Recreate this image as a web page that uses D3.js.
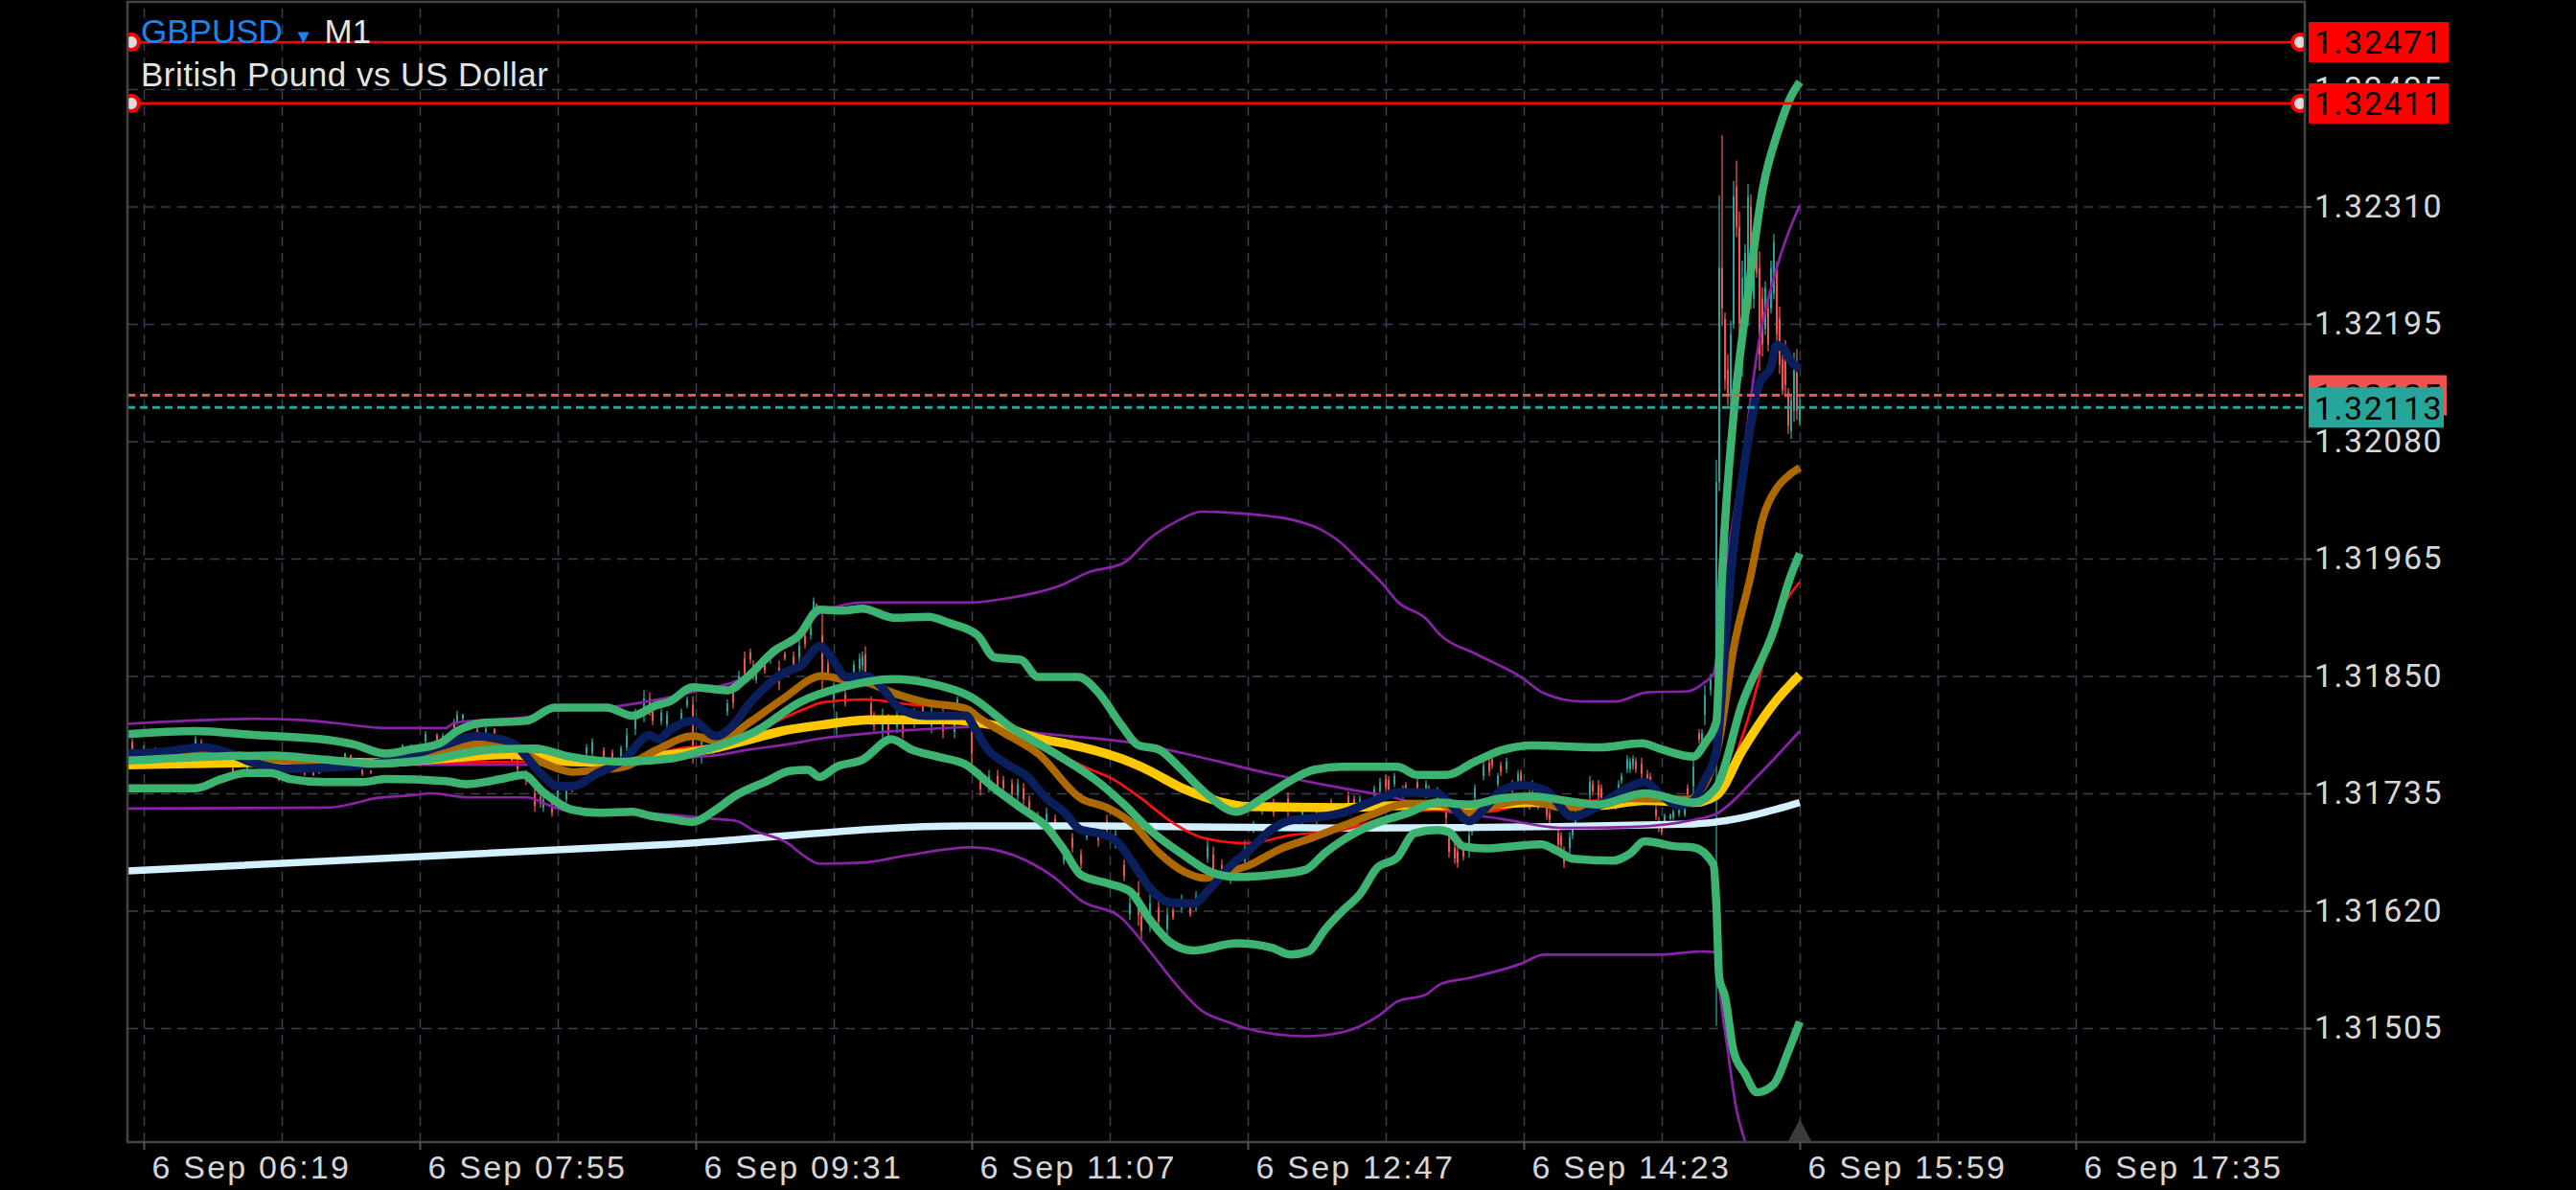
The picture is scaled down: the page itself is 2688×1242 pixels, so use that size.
<!DOCTYPE html>
<html>
<head>
<meta charset="utf-8">
<script src="https://cdn.jsdelivr.net/npm/d3@7"></script>
<style>
  html, body { margin: 0; background: #000; }
  svg { display: block; }
</style>
</head>
<body>
<script>
//// Data ///////////////////////////////////////////
// prices are kept in points (1 point = 0.00001), bar = minutes after 06:19

const PT = 1e5

const priceTicks = [1.31505, 1.31620, 1.31735, 1.31850, 1.31965, 1.32080, 1.32195, 1.32310, 1.32425]
const timeTickBars = [0, 96, 192, 288, 384, 480, 576, 672]
const timeTickLabels = ["6 Sep 06:19", "6 Sep 07:55", "6 Sep 09:31", "6 Sep 11:07",
                        "6 Sep 12:47", "6 Sep 14:23", "6 Sep 15:59", "6 Sep 17:35"]
const gridBars = [0, 48, 96, 144, 192, 240, 288, 336, 384, 432, 480, 528, 576, 624, 672, 720]

const levelPrices = [1.32471, 1.32411]
const askPrice = 1.32125
const bidPrice = 1.32113
const lastBar = 576

// [bar, open, high, low, close]
const candles = [
  [-4,131785,131789,131771,131775],[0,131774,131782,131771,131779],[4,131772,131780,131769,131777],
  [9,131775,131778,131766,131769],[13,131772,131782,131769,131779],[18,131783,131791,131780,131788],
  [20,131785,131788,131777,131780],[25,131767,131775,131764,131772],[31,131760,131761,131755,131756],
  [32,131753,131754,131749,131750],[36,131759,131766,131757,131764],[41,131769,131773,131768,131772],
  [47,131751,131752,131747,131748],[53,131768,131775,131766,131773],[56,131758,131759,131752,131754],
  [59,131757,131758,131752,131753],[61,131755,131759,131754,131758],[70,131770,131775,131769,131774],
  [72,131772,131773,131766,131768],[76,131759,131761,131752,131754],[79,131757,131758,131754,131755],
  [86,131763,131771,131761,131769],[90,131778,131783,131777,131782],[93,131777,131783,131775,131781],
  [98,131786,131796,131783,131793],[102,131792,131794,131785,131787],[104,131786,131794,131783,131791],
  [108,131805,131808,131796,131799],[109,131805,131816,131802,131812],[111,131808,131813,131806,131812],
  [116,131797,131799,131789,131791],[119,131793,131801,131791,131798],[122,131798,131799,131792,131794],
  [128,131771,131773,131764,131766],[130,131765,131768,131755,131758],[133,131754,131758,131743,131747],
  [136,131735,131741,131717,131723],[138,131732,131736,131721,131725],[139,131721,131733,131717,131729],
  [142,131726,131730,131712,131716],[144,131729,131743,131724,131738],[147,131729,131740,131726,131737],
  [149,131742,131743,131736,131738],[154,131774,131783,131771,131780],[156,131775,131789,131771,131785],
  [160,131777,131780,131768,131771],[163,131775,131778,131766,131769],[166,131771,131782,131768,131779],
  [168,131780,131799,131773,131792],[171,131798,131818,131792,131812],[174,131813,131836,131805,131828],
  [176,131828,131834,131811,131817],[177,131816,131820,131802,131806],[180,131806,131818,131802,131814],
  [182,131803,131816,131799,131812],[187,131806,131818,131802,131814],[189,131821,131830,131818,131827],
  [191,131822,131830,131764,131772],[194,131771,131792,131764,131785],[198,131776,131792,131771,131787],
  [203,131815,131827,131811,131823],[205,131837,131843,131818,131824],[207,131841,131855,131836,131850],
  [209,131867,131874,131846,131853],[211,131873,131877,131862,131866],[212,131860,131865,131846,131851],
  [213,131846,131855,131843,131852],[216,131862,131865,131852,131855],[218,131866,131877,131862,131873],
  [221,131858,131865,131836,131843],[223,131872,131874,131865,131867],[226,131869,131874,131855,131860],
  [228,131868,131886,131862,131880],[230,131889,131893,131877,131881],[232,131890,131902,131886,131898],
  [233,131915,131927,131911,131923],[234,131920,131921,131914,131916],[236,131890,131911,131834,131853],
  [238,131862,131867,131846,131851],[240,131824,131843,131818,131837],[241,131798,131815,131792,131809],
  [244,131832,131836,131820,131824],[247,131853,131865,131849,131861],[249,131857,131872,131852,131867],
  [250,131860,131874,131855,131869],[251,131871,131879,131846,131854],[253,131823,131830,131802,131809],
  [254,131810,131815,131796,131801],[257,131796,131818,131789,131811],[259,131806,131813,131787,131793],
  [262,131800,131818,131794,131812],[264,131805,131810,131789,131794],[268,131804,131818,131799,131813],
  [271,131821,131827,131804,131810],[274,131801,131822,131794,131815],[278,131811,131818,131789,131796],
  [282,131795,131813,131789,131807],[283,131821,131830,131818,131827],[288,131795,131805,131764,131774],
  [291,131752,131758,131733,131739],[294,131741,131758,131736,131752],[297,131752,131758,131733,131739],
  [299,131748,131752,131736,131740],[302,131744,131749,131730,131735],[304,131733,131749,131728,131744],
  [306,131740,131745,131724,131729],[308,131728,131733,131714,131719],[311,131713,131717,131702,131706],
  [314,131704,131721,131698,131715],[317,131710,131714,131696,131700],[320,131669,131683,131665,131679],
  [323,131691,131696,131677,131682],[326,131675,131680,131661,131666],[328,131692,131702,131689,131699],
  [332,131699,131705,131683,131689],[335,131708,131714,131689,131695],[338,131686,131700,131681,131695],
  [341,131665,131670,131649,131654],[343,131617,131633,131611,131627],[346,131638,131649,131605,131616],
  [347,131615,131623,131592,131600],[350,131608,131636,131599,131627],[353,131623,131630,131602,131609],
  [356,131602,131623,131595,131616],[358,131620,131623,131611,131614],[361,131622,131636,131618,131632],
  [364,131624,131627,131614,131617],[366,131625,131639,131620,131634],[370,131672,131689,131667,131683],
  [372,131675,131683,131651,131660],[375,131665,131670,131651,131656],[378,131651,131665,131646,131660],
  [383,131668,131689,131661,131682],[386,131699,131708,131696,131705],[389,131719,131733,131714,131728],
  [393,131725,131730,131712,131716],[398,131730,131736,131712,131718],[403,131709,131721,131705,131717],
  [408,131719,131724,131705,131710],[413,131726,131730,131714,131718],[419,131732,131737,131719,131724],
  [421,131729,131733,131719,131723],[423,131723,131733,131719,131729],[428,131731,131743,131727,131739],
  [430,131737,131750,131733,131746],[432,131749,131753,131737,131741],[433,131748,131752,131735,131739],
  [435,131744,131755,131741,131752],[438,131733,131743,131730,131740],[439,131743,131746,131733,131736],
  [443,131746,131750,131733,131737],[446,131734,131748,131730,131744],[447,131740,131743,131731,131734],
  [450,131738,131741,131727,131730],[453,131721,131727,131705,131711],[454,131691,131697,131672,131678],
  [456,131682,131687,131666,131671],[457,131678,131683,131662,131667],[459,131683,131687,131669,131673],
  [461,131679,131701,131672,131694],[462,131697,131705,131694,131702],[463,131731,131744,131727,131740],
  [466,131752,131766,131748,131762],[468,131765,131770,131752,131756],[469,131769,131773,131759,131762],
  [471,131744,131755,131741,131752],[472,131762,131766,131752,131756],[474,131759,131770,131755,131766],
  [476,131744,131748,131733,131737],[478,131745,131758,131741,131754],[479,131755,131758,131744,131747],
  [482,131735,131741,131719,131725],[483,131737,131748,131733,131744],[485,131732,131737,131719,131724],
  [488,131722,131727,131709,131713],[489,131715,131719,131705,131709],[492,131696,131701,131680,131685],
  [493,131693,131697,131680,131684],[494,131678,131683,131662,131667],[496,131681,131697,131676,131692],
  [497,131694,131705,131690,131701],[498,131705,131719,131701,131714],[500,131716,131727,131712,131723],
  [503,131733,131752,131727,131746],[504,131744,131748,131733,131737],[506,131743,131748,131727,131732],
  [507,131740,131744,131727,131731],[509,131725,131733,131723,131731],[512,131729,131733,131719,131723],
  [513,131737,131748,131733,131744],[514,131747,131755,131744,131752],[516,131759,131772,131755,131768],
  [517,131759,131770,131755,131766],[518,131762,131772,131758,131769],[519,131766,131770,131755,131759],
  [521,131764,131770,131748,131754],[523,131754,131758,131744,131748],[524,131751,131755,131741,131745],
  [526,131719,131723,131709,131713],[527,131708,131712,131697,131701],[528,131702,131705,131694,131697],
  [529,131707,131715,131705,131713],[531,131710,131715,131709,131714],[532,131711,131719,131709,131717],
  [534,131715,131723,131712,131720],[536,131714,131723,131712,131721],[537,131740,131744,131730,131734],
  [539,131742,131770,131733,131761],[541,131794,131798,131784,131788],[542,131785,131798,131780,131794],
  [543,131812,131841,131802,131831],[545,131836,131852,131831,131847],
  [547,131850,132062,131507,132040],[548,132040,132321,132031,132250],[549,132250,132380,132193,132210],
  [550,132200,132206,132130,132140],[551,132150,132165,132115,132125],[552,132125,132198,132111,132185],
  [553,132195,132335,132190,132320],[554,132330,132355,132280,132290],[555,132290,132305,132179,132195],
  [556,132160,132257,132143,132240],[557,132225,132273,132219,132265],[558,132210,132332,132193,132320],
  [559,132310,132322,132209,132225],[560,132220,132268,132210,132260],[561,132265,132268,132240,132245],
  [562,132250,132266,132149,132165],[563,132220,132231,132163,132175],[564,132190,132237,132184,132230],
  [565,132210,132217,132168,132175],[566,132210,132257,132205,132250],[567,132225,132283,132219,132275],
  [568,132250,132256,132177,132185],[569,132200,132212,132146,132155],[570,132160,132165,132125,132130],
  [571,132170,132179,132125,132135],[572,132128,132132,132087,132095],[573,132090,132126,132082,132120],
  [574,132110,132167,132099,132155],[575,132150,132170,132101,132110],[576,132100,132127,132095,132113]
]

// moving average 200 (light blue)
const ma200 = [[-6,131659],[183,131685],[287,131703],[332,131703],[417,131701],[539,131705],[547,131707],[576,131726]]

// short bollinger band (green)
const bbUpper = [[-6,131793],[18,131796],[39,131792],[62,131788],[73,131783],[84,131774],[93,131778],[103,131784],
  [109,131796],[118,131804],[133,131806],[143,131819],[161,131819],[170,131811],[178,131821],[183,131825],
  [191,131839],[203,131836],[210,131849],[219,131874],[228,131890],[235,131915],[243,131914],[250,131916],
  [261,131907],[273,131908],[280,131902],[290,131890],[296,131868],[305,131866],[311,131849],[325,131849],
  [332,131834],[340,131802],[346,131782],[353,131778],[360,131761],[369,131736],[380,131717],[389,131730],
  [398,131746],[407,131758],[417,131761],[436,131761],[443,131753],[453,131753],[463,131766],[472,131777],
  [483,131782],[506,131780],[521,131784],[528,131778],[539,131771],[543,131784],[547,131805],[549,131949],
  [553,132106],[558,132224],[563,132325],[569,132388],[573,132418],[576,132432]]
const bbMiddle = [[-6,131767],[24,131771],[45,131772],[63,131768],[81,131764],[99,131768],[121,131778],[136,131779],
  [148,131771],[167,131766],[183,131769],[198,131780],[213,131796],[228,131824],[243,131839],[261,131847],
  [273,131843],[288,131829],[302,131799],[317,131774],[332,131746],[341,131724],[350,131699],[362,131674],
  [371,131658],[380,131653],[392,131655],[404,131660],[411,131677],[417,131689],[428,131705],[439,131715],
  [450,131726],[461,131724],[472,131730],[483,131732],[494,131728],[506,131724],[522,131735],[539,131726],
  [547,131741],[556,131823],[567,131895],[573,131949],[576,131970]]
const bbLower = [[-6,131740],[18,131740],[27,131749],[36,131755],[44,131755],[51,131749],[63,131746],[76,131746],
  [84,131749],[105,131747],[112,131744],[126,131750],[132,131753],[139,131736],[149,131719],[158,131716],
  [170,131717],[176,131713],[183,131710],[191,131707],[198,131717],[206,131733],[216,131746],[225,131757],
  [231,131758],[235,131751],[241,131761],[250,131768],[260,131788],[267,131778],[276,131771],[286,131763],
  [295,131742],[305,131721],[314,131702],[320,131680],[326,131655],[335,131647],[343,131639],[350,131611],
  [357,131589],[365,131581],[380,131588],[392,131584],[399,131577],[405,131580],[411,131602],[417,131620],
  [423,131636],[429,131662],[436,131672],[442,131696],[450,131699],[454,131697],[459,131683],[467,131681],
  [476,131683],[486,131685],[492,131678],[497,131671],[511,131669],[517,131676],[522,131688],[533,131683],
  [539,131682],[546,131665],[547,131626],[548,131554],[550,131536],[553,131482],[557,131460],[561,131442],
  [567,131450],[572,131482],[576,131511]]

// long bollinger band (purple)
const envUpper = [[-6,131803],[39,131808],[54,131807],[66,131804],[84,131799],[105,131799],[108,131804],[134,131810],
  [142,131816],[158,131818],[175,131825],[183,131829],[192,131835],[210,131850],[227,131890],[236,131913],
  [251,131922],[288,131922],[300,131926],[311,131932],[320,131940],[328,131951],[341,131961],[350,131985],
  [359,132001],[368,132011],[383,132009],[401,132002],[409,131994],[417,131979],[422,131965],[431,131940],
  [436,131923],[446,131906],[451,131890],[463,131872],[479,131849],[487,131833],[500,131825],[512,131825],
  [523,131834],[537,131835],[543,131844],[546,131852],[550,131949],[556,132059],[562,132181],[568,132250],
  [572,132284],[576,132311]]
const envMiddle = [[-6,131761],[29,131763],[107,131763],[150,131763],[183,131770],[198,131772],[211,131778],
  [224,131783],[236,131789],[253,131794],[267,131797],[289,131800],[300,131798],[311,131794],[322,131791],
  [340,131786],[347,131783],[362,131774],[392,131754],[417,131740],[433,131732],[450,131719],[472,131710],
  [494,131701],[517,131702],[539,131709],[547,131715],[561,131751],[576,131796]]
const envLower = [[-6,131720],[64,131721],[73,131725],[80,131730],[93,131733],[100,131735],[113,131731],[133,131731],
  [143,131721],[149,131717],[167,131716],[183,131714],[198,131710],[206,131708],[212,131699],[224,131686],
  [229,131675],[235,131666],[250,131667],[265,131674],[288,131682],[307,131669],[317,131652],[326,131630],
  [340,131613],[350,131580],[359,131548],[368,131522],[377,131511],[383,131505],[404,131497],[417,131501],
  [430,131518],[436,131531],[446,131538],[451,131548],[461,131554],[479,131568],[487,131577],[528,131577],
  [541,131580],[547,131579],[548,131547],[551,131482],[554,131425],[557,131393],[560,131360]]

// fast average (navy)
const emaFast = [[-6,131774],[4,131775],[21,131780],[29,131775],[37,131766],[50,131759],[63,131760],[80,131764],
  [91,131771],[104,131782],[116,131791],[122,131789],[129,131783],[133,131771],[138,131755],[144,131742],
  [149,131742],[158,131755],[167,131768],[176,131792],[179,131788],[183,131797],[191,131806],[199,131791],
  [204,131799],[211,131824],[222,131852],[229,131861],[235,131879],[240,131865],[244,131849],[251,131850],
  [256,131841],[263,131818],[272,131811],[286,131811],[289,131799],[293,131780],[300,131764],[307,131752],
  [314,131730],[320,131717],[326,131699],[332,131696],[338,131689],[344,131667],[350,131642],[357,131628],
  [365,131627],[371,131642],[378,131664],[386,131683],[392,131699],[398,131708],[407,131711],[417,131716],
  [428,131728],[437,131736],[450,131735],[454,131726],[461,131708],[466,131719],[472,131737],[479,131743],
  [488,131737],[497,131712],[506,131723],[514,131737],[522,131746],[528,131733],[534,131723],[539,131728],
  [543,131748],[547,131777],[550,131877],[552,131949],[556,132043],[559,132096],[562,132137],[566,132153],
  [568,132174],[570,132172],[573,132158],[576,132151]]

// medium average (brown)
const emaMid = [[-6,131772],[21,131775],[37,131771],[60,131765],[77,131764],[104,131777],[116,131783],[127,131782],
  [138,131766],[149,131756],[158,131758],[167,131761],[178,131777],[191,131791],[200,131786],[211,131805],
  [222,131827],[236,131850],[244,131846],[252,131843],[261,131833],[272,131824],[286,131818],[291,131808],
  [300,131793],[311,131774],[326,131730],[335,131721],[344,131705],[353,131677],[362,131658],[369,131652],
  [377,131658],[384,131664],[395,131680],[407,131692],[417,131703],[428,131715],[439,131725],[450,131725],
  [461,131715],[470,131723],[481,131728],[494,131721],[506,131723],[517,131730],[537,131729],[543,131744],
  [548,131787],[553,131877],[559,131949],[563,132003],[568,132034],[572,132046],[576,132054]]

// thin average (red)
const emaRed = [[-6,131769],[83,131765],[150,131766],[167,131768],[178,131774],[189,131780],[200,131782],[211,131793],
  [222,131808],[231,131819],[236,131824],[251,131827],[267,131822],[278,131821],[287,131815],[294,131802],
  [306,131789],[317,131775],[328,131760],[337,131749],[347,131730],[357,131708],[369,131691],[384,131686],
  [399,131694],[417,131699],[428,131708],[450,131719],[467,131717],[483,131726],[517,131728],[539,131728],
  [547,131733],[557,131799],[568,131906],[576,131942]]

// slow average (yellow)
const emaSlow = [[-6,131763],[16,131764],[60,131766],[82,131765],[104,131769],[127,131773],[138,131770],[149,131766],
  [167,131765],[178,131771],[189,131775],[200,131780],[211,131788],[222,131796],[236,131802],[253,131807],
  [278,131807],[289,131805],[300,131799],[311,131789],[322,131783],[340,131769],[347,131761],[362,131739],
  [374,131727],[384,131722],[417,131721],[439,131723],[461,131723],[483,131726],[506,131723],[522,131728],
  [539,131726],[547,131733],[556,131777],[567,131823],[576,131851]]


//// Layout /////////////////////////////////////////

const WIDTH = 2688
const HEIGHT = 1242
const plot = { left: 133, right: 2405, top: 2, bottom: 1192 }

const upColor = "#26a69a"
const downColor = "#ef5350"
const gridColor = "#3e3e4e"
const textColor = "#d6d6d6"

const svg = d3.select("body").append("svg")
    .attr("width", WIDTH)
    .attr("height", HEIGHT)
    .style("background", "#000")

const x = d3.scaleLinear().domain([-17 / 3, 2255 / 3]).range([plot.left, plot.right])
const y = d3.scaleLinear().domain([1.3139328, 1.3251043]).range([plot.bottom, plot.top])

svg.append("clipPath").attr("id", "plotClip")
    .append("rect")
    .attr("x", plot.left).attr("y", plot.top)
    .attr("width", plot.right - plot.left).attr("height", plot.bottom - plot.top)

/// Grid ///
svg.append("g")
    .attr("transform", `translate(0,${plot.bottom})`)
    .call(d3.axisBottom(x).tickValues(gridBars).tickSize(-(plot.bottom - plot.top)).tickFormat(""))
    .call(g => g.select(".domain").remove())
    .selectAll("line")
    .attr("stroke", gridColor).attr("stroke-width", 1.5).attr("stroke-dasharray", "10,7")

svg.append("g")
    .attr("transform", `translate(${plot.right},0)`)
    .call(d3.axisLeft(y).tickValues(priceTicks).tickSize(plot.right - plot.left).tickFormat(""))
    .call(g => g.select(".domain").remove())
    .selectAll("line")
    .attr("stroke", gridColor).attr("stroke-width", 1.5).attr("stroke-dasharray", "10,7")

const area = svg.append("g").attr("clip-path", "url(#plotClip)")

/// Candles ///
const candleG = area.append("g")
candles.forEach(([bar, o, h, l, c]) => {
    const col = c >= o ? upColor : downColor
    candleG.append("line")
        .attr("x1", x(bar)).attr("x2", x(bar))
        .attr("y1", y(h / PT)).attr("y2", y(l / PT))
        .attr("stroke", col).attr("stroke-width", 1.3)
    candleG.append("rect")
        .attr("x", x(bar) - 1).attr("width", 2)
        .attr("y", y(Math.max(o, c) / PT))
        .attr("height", Math.max(1, Math.abs(y(o / PT) - y(c / PT))))
        .attr("fill", col)
})

/// Indicator lines ///
const line = d3.line()
    .x(d => x(d[0]))
    .y(d => y(d[1] / PT))
    .curve(d3.curveMonotoneX)

function drawLine(data, color, width) {
    area.append("path").datum(data)
        .attr("d", line)
        .attr("fill", "none")
        .attr("stroke", color)
        .attr("stroke-width", width)
        .attr("stroke-linejoin", "round")
        .attr("stroke-linecap", "butt")
}

drawLine(ma200, "#d2f0ff", 7.5)
drawLine(envUpper, "#8a22a8", 2.7)
drawLine(envMiddle, "#8a22a8", 2.7)
drawLine(envLower, "#8a22a8", 2.7)
drawLine(emaRed, "#ff1010", 2.7)
drawLine(emaSlow, "#ffc800", 9.5)
drawLine(emaMid, "#ad6800", 8)
drawLine(emaFast, "#0a1e5c", 9)
drawLine(bbUpper, "#3cb371", 8.5)
drawLine(bbMiddle, "#3cb371", 8.5)
drawLine(bbLower, "#3cb371", 8.5)

/// Bid / Ask ///
area.append("line")
    .attr("x1", plot.left).attr("x2", plot.right)
    .attr("y1", y(askPrice)).attr("y2", y(askPrice))
    .attr("stroke", downColor).attr("stroke-width", 3).attr("stroke-dasharray", "8,5")
area.append("line")
    .attr("x1", plot.left).attr("x2", plot.right)
    .attr("y1", y(bidPrice)).attr("y2", y(bidPrice))
    .attr("stroke", upColor).attr("stroke-width", 3).attr("stroke-dasharray", "8,5")

/// Level lines ///
levelPrices.forEach(p => {
    area.append("line")
        .attr("x1", plot.left).attr("x2", plot.right)
        .attr("y1", y(p)).attr("y2", y(p))
        .attr("stroke", "#ff0000").attr("stroke-width", 2.7)
    ;[plot.left + 4, plot.right - 5].forEach(cx => {
        area.append("circle")
            .attr("cx", cx).attr("cy", y(p)).attr("r", 8)
            .attr("fill", "#dcdcdc").attr("stroke", "#ff0000").attr("stroke-width", 4)
    })
})

/// Frame ///
svg.append("rect")
    .attr("x", plot.left).attr("y", plot.top)
    .attr("width", plot.right - plot.left).attr("height", plot.bottom - plot.top)
    .attr("fill", "none").attr("stroke", "#444").attr("stroke-width", 2.5)

/// Axes ///
const yAxis = svg.append("g")
    .attr("transform", `translate(${plot.right},0)`)
    .call(d3.axisRight(y).tickValues(priceTicks).tickSize(7).tickPadding(3).tickFormat(d3.format(".5f")))
yAxis.select(".domain").remove()
yAxis.selectAll("line").attr("stroke", "#555").attr("stroke-width", 2)
yAxis.selectAll("text")
    .attr("fill", textColor)
    .style("font-family", "Roboto, sans-serif")
    .style("font-size", "34px")
    .style("letter-spacing", "1.5px")

const xAxis = svg.append("g")
    .attr("transform", `translate(0,${plot.bottom})`)
    .call(d3.axisBottom(x).tickValues(timeTickBars).tickSize(8).tickPadding(6)
        .tickFormat((d, i) => timeTickLabels[i]))
xAxis.select(".domain").remove()
xAxis.selectAll("line").attr("stroke", "#555").attr("stroke-width", 2)
xAxis.selectAll("text")
    .attr("fill", textColor)
    .attr("text-anchor", "start")
    .attr("x", 8)
    .style("font-family", "'Liberation Sans', Arial, sans-serif")
    .style("font-size", "34px")
    .style("letter-spacing", "2.2px")

/// Price tags ///
function priceTag(p, color, width) {
    const g = svg.append("g")
    g.append("rect")
        .attr("x", plot.right + 4).attr("y", y(p) - 21)
        .attr("width", width).attr("height", 42)
        .attr("fill", color)
    g.append("text")
        .attr("x", plot.right + 10).attr("y", y(p))
        .attr("dy", "0.36em")
        .attr("fill", "#000")
        .style("font-family", "Roboto, sans-serif")
        .style("font-size", "34px")
        .style("letter-spacing", "1.5px")
        .text(d3.format(".5f")(p))
}
levelPrices.forEach(p => priceTag(p, "#ff0000", 146))
priceTag(askPrice, downColor, 144)
priceTag(bidPrice, upColor, 141)

/// Last bar marker ///
const mx = x(lastBar)
svg.append("path")
    .attr("d", `M${mx},${plot.bottom - 24} L${mx - 12},${plot.bottom - 1} L${mx + 12},${plot.bottom - 1} Z`)
    .attr("fill", "#3c3c3c")

/// Title ///
const title = svg.append("text")
    .attr("x", 147).attr("y", 45)
    .style("font-family", "'Liberation Sans', Arial, sans-serif")
    .style("font-size", "35px")
title.append("tspan").attr("fill", "#1a84f5").text("GBPUSD")
title.append("tspan").attr("fill", "#1a84f5").attr("dx", 12).style("font-size", "20px").text("▼")
title.append("tspan").attr("fill", "#e4e4e4").attr("dx", 12).text("M1")

svg.append("text")
    .attr("x", 147).attr("y", 90)
    .attr("fill", "#e4e4e4")
    .style("font-family", "'Liberation Sans', Arial, sans-serif")
    .style("font-size", "35px")
    .style("letter-spacing", "0.5px")
    .text("British Pound vs US Dollar")
</script>
</body>
</html>
